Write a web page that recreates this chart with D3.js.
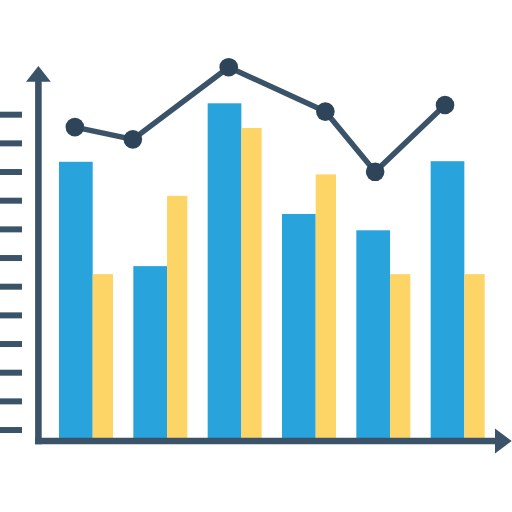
<!DOCTYPE html>
<html>
<head>
<meta charset="utf-8">
<script src="https://cdn.jsdelivr.net/npm/d3@7"></script>
<style>
  body { margin: 0; background: #fff; }
  svg { display: block; }
</style>
</head>
<body>
<div id="chart"></div>
<script>
const width = 512
const height = 512

const axisColor = "#3b5369"
const dotColor = "#2e4458"
const blueColor = "#29a3dc"
const yellowColor = "#fdd466"

// values
const groups = ["A", "B", "C", "D", "E", "F"]
const blueValues = [9.74, 6.10, 11.78, 7.92, 7.35, 9.76]
const yellowValues = [5.82, 8.55, 10.92, 9.30, 5.82, 5.82]
const linePositions = [0.35, 1.13, 2.42, 3.72, 4.39, 5.33]
const lineValues = [10.95, 10.52, 13.04, 11.49, 9.39, 11.72]
const tickValues = [0.4, 1.4, 2.4, 3.4, 4.4, 5.4, 6.4, 7.4, 8.4, 9.4, 10.4, 11.4]

const svg = d3.select("#chart")
  .append("svg")
  .attr("width", width)
  .attr("height", height)

const x = d3.scaleBand()
  .domain(groups)
  .range([48.83, 494.83])
  .paddingInner(0.2735)
  .paddingOuter(0.13675)

const xLine = d3.scaleLinear()
  .domain([0, groups.length])
  .range(x.range())

const y = d3.scaleLinear()
  .domain([0, 13])
  .range([441, 68.33])

const blueWidth = x.bandwidth() * 0.624

// bars
svg.append("g")
  .selectAll("rect")
  .data(groups)
  .enter().append("rect")
  .attr("x", d => x(d))
  .attr("y", (d, i) => y(blueValues[i]))
  .attr("width", blueWidth)
  .attr("height", (d, i) => y(0) - y(blueValues[i]))
  .attr("fill", blueColor)

svg.append("g")
  .selectAll("rect")
  .data(groups)
  .enter().append("rect")
  .attr("x", d => x(d) + blueWidth)
  .attr("y", (d, i) => y(yellowValues[i]))
  .attr("width", x.bandwidth() - blueWidth)
  .attr("height", (d, i) => y(0) - y(yellowValues[i]))
  .attr("fill", yellowColor)

// detached tick marks on the left
const yAxis = d3.axisLeft(y)
  .tickValues(tickValues)
  .tickSize(22)
  .tickFormat("")

const tickG = svg.append("g")
  .attr("transform", "translate(22,0)")
  .call(yAxis)
tickG.select(".domain").remove()
tickG.selectAll("line")
  .attr("stroke", axisColor)
  .attr("stroke-width", 6)

// axis lines with arrow heads
const axisX = 38.4
const axisY = y(0)
const axisW = 6.6

svg.append("line")
  .attr("x1", axisX).attr("x2", axisX)
  .attr("y1", axisY + axisW / 2).attr("y2", 80)
  .attr("stroke", axisColor)
  .attr("stroke-width", axisW)

svg.append("line")
  .attr("x1", axisX - axisW / 2).attr("x2", 497)
  .attr("y1", axisY).attr("y2", axisY)
  .attr("stroke", axisColor)
  .attr("stroke-width", axisW)

svg.append("path")
  .attr("d", `M${axisX},66 L${axisX + 12.4},81.7 L${axisX - 12.4},81.7 Z`)
  .attr("fill", axisColor)

svg.append("path")
  .attr("d", `M511.7,${axisY} L495,${axisY - 12.4} L495,${axisY + 12.4} Z`)
  .attr("fill", axisColor)

// line series
const line = d3.line()
  .x((d, i) => xLine(linePositions[i]))
  .y(d => y(d))

svg.append("path")
  .datum(lineValues)
  .attr("d", line)
  .attr("fill", "none")
  .attr("stroke", axisColor)
  .attr("stroke-width", 5.5)
  .attr("stroke-linejoin", "round")

svg.append("g")
  .selectAll("circle")
  .data(lineValues)
  .enter().append("circle")
  .attr("cx", (d, i) => xLine(linePositions[i]))
  .attr("cy", d => y(d))
  .attr("r", 9.3)
  .attr("fill", dotColor)
</script>
</body>
</html>
